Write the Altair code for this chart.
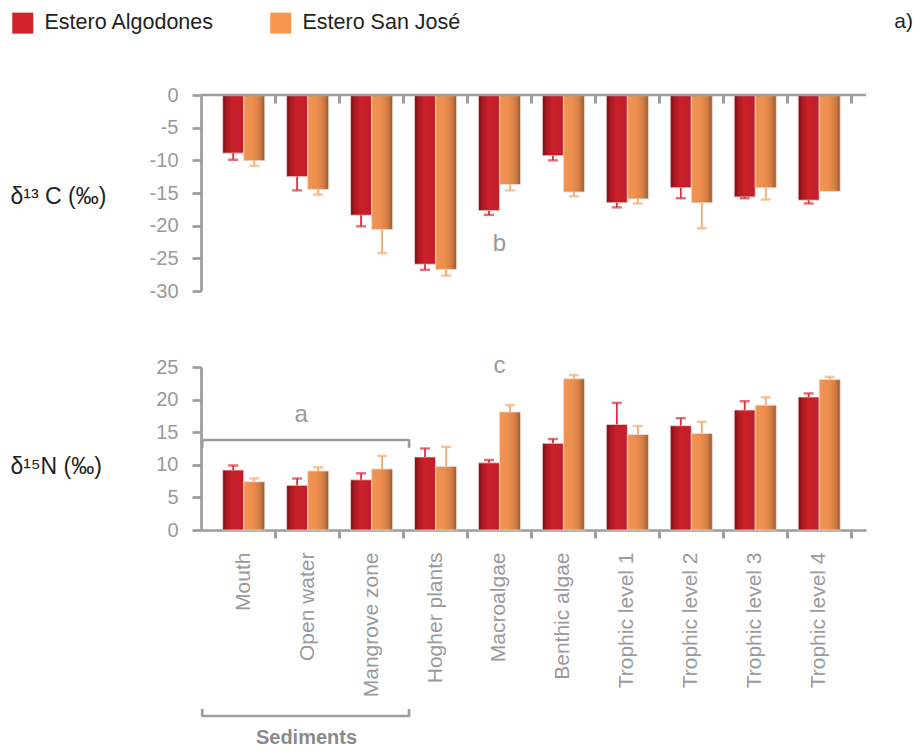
import altair as alt
import pandas as pd

categories = ["Mouth", "Open water", "Mangrove zone", "Hogher plants", "Macroalgae",
              "Benthic algae", "Trophic level 1", "Trophic level 2", "Trophic level 3", "Trophic level 4"]
series = ["Estero Algodones", "Estero San José"]

c13_algodones = [-8.9, -12.5, -18.4, -25.9, -17.7, -9.3, -16.5, -14.2, -15.6, -16.1]
c13_algodones_sd = [1.0, 2.1, 1.7, 0.85, 0.65, 0.7, 0.7, 1.6, 0.2, 0.5]
c13_sanjose = [-10.05, -14.45, -20.6, -26.7, -13.7, -14.85, -15.9, -16.5, -14.2, -14.75]
c13_sanjose_sd = [0.8, 0.8, 3.6, 0.95, 0.9, 0.65, 0.7, 3.9, 1.8, 0.0]

n15_algodones = [9.2, 6.85, 7.7, 11.2, 10.3, 13.3, 16.2, 16.0, 18.4, 20.4]
n15_algodones_sd = [0.7, 1.05, 1.0, 1.3, 0.45, 0.65, 3.3, 1.15, 1.35, 0.55]
n15_sanjose = [7.4, 9.05, 9.35, 9.75, 18.1, 23.2, 14.65, 14.8, 19.15, 23.1]
n15_sanjose_sd = [0.5, 0.55, 2.0, 3.0, 1.05, 0.55, 1.3, 1.8, 1.2, 0.4]

GRAY = "#9d9d9d"
LBL = "#9a9a9a"
DARK = "#231f20"
RED = "#d2232a"
ORANGE = "#f7964d"
ERR_RED = "#d8303d"
ERR_OR = "#f8aa6c"
FONT = "Liberation Sans"

red_grad = alt.Gradient(gradient="linear", x1=0, x2=1, y1=0, y2=0, stops=[
    alt.GradientStop(color="#7a1015", offset=0),
    alt.GradientStop(color="#b41b24", offset=0.25),
    alt.GradientStop(color="#c9202a", offset=0.5),
    alt.GradientStop(color="#c21e28", offset=1)])
orange_grad = alt.Gradient(gradient="linear", x1=0, x2=1, y1=0, y2=0, stops=[
    alt.GradientStop(color="#f09656", offset=0),
    alt.GradientStop(color="#ea8b4b", offset=0.5),
    alt.GradientStop(color="#d47f45", offset=0.75),
    alt.GradientStop(color="#9a5a31", offset=1)])


def make_df(v1, s1, v2, s2, sign):
    rows = []
    for vals, sds, name in ((v1, s1, series[0]), (v2, s2, series[1])):
        for c, v, s in zip(categories, vals, sds):
            rows.append({"category": c, "series": name, "value": v, "sd": s,
                         "err": v + sign * s})
    return pd.DataFrame(rows)


df13 = make_df(c13_algodones, c13_algodones_sd, c13_sanjose, c13_sanjose_sd, -1)
df15 = make_df(n15_algodones, n15_algodones_sd, n15_sanjose, n15_sanjose_sd, 1)

xscale = alt.Scale(domain=categories, paddingInner=0, paddingOuter=0.2, align=0.42)
xoff = alt.XOffset("series:N", scale=alt.Scale(domain=series, paddingInner=0, paddingOuter=0.52))

top_xaxis = alt.Axis(orient="top", offset=-8, domain=False, labels=False, ticks=True,
                     tickSize=8, tickWidth=3, tickColor=GRAY, bandPosition=1, title=None,
                     grid=False)
bot_xaxis = alt.Axis(orient="bottom", domain=True, domainColor=GRAY, domainWidth=2.7,
                     ticks=True, tickSize=8, tickWidth=3, tickColor=GRAY, bandPosition=1,
                     labelAngle=270, labelAlign="right", labelBaseline="middle",
                     labelPadding=14, labelFontSize=21, labelColor=LBL, labelFont=FONT,
                     title="Sediments", titleX=105, titleY=207, titleFontSize=20,
                     titleFontWeight="bold", titleColor="#8a8a8a", titleFont=FONT,
                     titleAlign="center", titleBaseline="middle", grid=False)


def yaxis(title, values, title_y):
    return alt.Axis(values=values, domain=True, domainColor=GRAY, domainWidth=2.7,
                    ticks=True, tickSize=9, tickWidth=2.7, tickColor=GRAY,
                    labelExpr="datum.value < 0 ? '-' + abs(datum.value) : '' + datum.value",
                    labelFontSize=20, labelColor=LBL, labelFont=FONT, labelPadding=14,
                    title=title, titleAngle=0, titleAlign="left", titleBaseline="middle",
                    titleX=-191, titleY=title_y, titleFontSize=23, titleFontWeight="normal",
                    titleColor=DARK, titleFont=FONT, grid=False)


def panel(df, ydomain, yvals, ytitle, title_y, xaxis):
    ys = alt.Scale(domain=ydomain, nice=False, zero=False)
    ya = yaxis(ytitle, yvals, title_y)

    def X(**kw):
        return alt.X(scale=xscale, axis=xaxis, **kw)

    def Y(**kw):
        return alt.Y(scale=ys, axis=ya, **kw)

    layers = []
    for name, grad in ((series[0], red_grad), (series[1], orange_grad)):
        layers.append(
            alt.Chart(df).transform_filter(alt.datum.series == name)
            .mark_bar(stroke="#eadcd8", strokeWidth=0.8)
            .encode(x=X(field="category", type="nominal"), xOffset=xoff,
                    y=Y(field="value", type="quantitative"),
                    fill=alt.value(grad))
        )
    errdf = df[df["sd"] > 0]
    layers.append(
        alt.Chart(errdf).mark_rule(strokeWidth=1.8).encode(
            x=X(field="category", type="nominal"), xOffset=xoff,
            y=Y(field="value", type="quantitative"), y2="err:Q",
            stroke=alt.Stroke("series:N", scale=alt.Scale(domain=series, range=[ERR_RED, ERR_OR]),
                              legend=None))
    )
    layers.append(
        alt.Chart(errdf).mark_tick(size=10, thickness=2.4).encode(
            x=X(field="category", type="nominal"), xOffset=xoff,
            y=Y(field="err", type="quantitative"),
            fill=alt.Fill("series:N", scale=alt.Scale(domain=series, range=[ERR_RED, ERR_OR]),
                          legend=None))
    )
    return layers, X, Y


# ---- top panel (delta 13C) ----
top_layers, Xt, Yt = panel(df13, [-30, 0], [0, -5, -10, -15, -20, -25, -30],
                           "δ¹³ C (‰)", 101, top_xaxis)
# legend carrier: empty square layer with the series colour scale
top_layers.append(
    alt.Chart(df13).transform_filter("false").mark_square(opacity=1, filled=True).encode(
        color=alt.Color("series:N", scale=alt.Scale(domain=series, range=[RED, ORANGE]),
                        legend=alt.Legend(orient="none", legendX=-189, legendY=-83,
                                          direction="horizontal", symbolType="square",
                                          symbolSize=441, symbolStrokeWidth=0,
                                          symbolOpacity=1, labelLimit=400,
                                          labelFontSize=21.5, labelColor=DARK,
                                          labelFont=FONT, labelOffset=11,
                                          columnPadding=55, title=None, padding=0)))
)
top_layers.append(
    alt.Chart(pd.DataFrame({"v": [0]})).mark_rule(color=GRAY, strokeWidth=2.7).encode(
        y=Yt(field="v", type="quantitative"))
)
top_layers.append(
    alt.Chart(pd.DataFrame({"t": ["b"]})).mark_text(fontSize=24, color=LBL, font=FONT,
                                                    baseline="middle").encode(
        x=Xt(datum="Macroalgae", type="nominal"), y=Yt(datum=-22.8, type="quantitative"),
        text="t:N")
)
top_layers.append(
    alt.Chart(pd.DataFrame({"t": ["a)"]})).mark_text(fontSize=21, color=DARK, font=FONT,
                                                     align="right", baseline="middle").encode(
        x=alt.value(712), y=alt.value(-73), text="t:N")
)
top = alt.layer(*top_layers).properties(width=665, height=196)

# ---- bottom panel (delta 15N) ----
bot_layers, Xb, Yb = panel(df15, [0, 25], [0, 5, 10, 15, 20, 25],
                           "δ¹⁵N (‰)", 99, bot_xaxis)
ann = pd.DataFrame({"t": ["x"]})
L_OFF = -9.5   # bracket start, left of first band
R_OFF = 5.5    # bracket end, right of third band
# bracket "a"
bot_layers.append(alt.Chart(ann).mark_rule(color=GRAY, strokeWidth=2.7, xOffset=L_OFF,
                                           x2Offset=R_OFF).encode(
    x=Xb(datum="Mouth", type="nominal", bandPosition=0),
    x2=alt.X2(datum="Mangrove zone", bandPosition=1),
    y=Yb(datum=13.8, type="quantitative")))
bot_layers.append(alt.Chart(ann).mark_rule(color=GRAY, strokeWidth=2.7, xOffset=L_OFF).encode(
    x=Xb(datum="Mouth", type="nominal", bandPosition=0),
    y=Yb(datum=13.9, type="quantitative"), y2=alt.Y2(datum=12.6)))
bot_layers.append(alt.Chart(ann).mark_rule(color=GRAY, strokeWidth=2.7, xOffset=R_OFF).encode(
    x=Xb(datum="Mangrove zone", type="nominal", bandPosition=1),
    y=Yb(datum=13.9, type="quantitative"), y2=alt.Y2(datum=12.6)))
bot_layers.append(alt.Chart(pd.DataFrame({"t": ["a"]})).mark_text(
    fontSize=24, color=LBL, font=FONT, baseline="middle").encode(
    x=Xb(datum="Open water", type="nominal", bandPosition=0.4),
    y=Yb(datum=17.6, type="quantitative"), text="t:N"))
bot_layers.append(alt.Chart(pd.DataFrame({"t": ["c"]})).mark_text(
    fontSize=24, color=LBL, font=FONT, baseline="middle").encode(
    x=Xb(datum="Macroalgae", type="nominal"),
    y=Yb(datum=25.1, type="quantitative"), text="t:N"))
# Sediments bracket below labels
bot_layers.append(alt.Chart(ann).mark_rule(color=GRAY, strokeWidth=2.7, xOffset=L_OFF,
                                           x2Offset=R_OFF).encode(
    x=Xb(datum="Mouth", type="nominal", bandPosition=0),
    x2=alt.X2(datum="Mangrove zone", bandPosition=1),
    y=alt.value(349)))
bot_layers.append(alt.Chart(ann).mark_rule(color=GRAY, strokeWidth=2.7, xOffset=L_OFF).encode(
    x=Xb(datum="Mouth", type="nominal", bandPosition=0),
    y=alt.value(342), y2=alt.value(350)))
bot_layers.append(alt.Chart(ann).mark_rule(color=GRAY, strokeWidth=2.7, xOffset=R_OFF).encode(
    x=Xb(datum="Mangrove zone", type="nominal", bandPosition=1),
    y=alt.value(342), y2=alt.value(350)))
bottom = alt.layer(*bot_layers).properties(width=665, height=163)

chart = alt.vconcat(top, bottom, spacing=76, bounds="flush").resolve_scale(
    fill="independent", stroke="independent"
).properties(
    padding={"left": 2, "top": 3, "right": 0, "bottom": 0}
).configure(font=FONT, background="white").configure_view(stroke=None)

chart.save("out.html", embed_options={"renderer": "svg", "actions": False})
